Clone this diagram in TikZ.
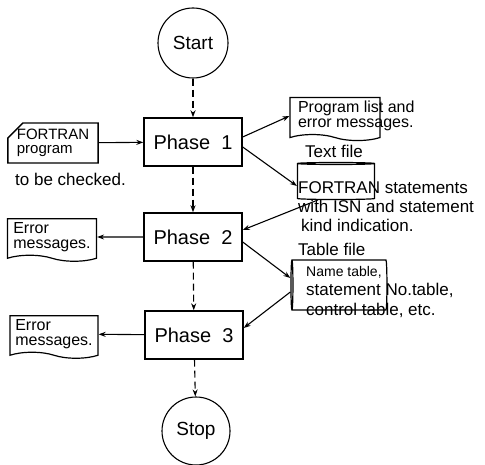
\documentclass[tikz,border=0pt]{standalone}
\usepackage{fontspec}
\setmainfont{Liberation Sans}
\usetikzlibrary{arrows.meta}
\usetikzlibrary{shapes.geometric}
\usetikzlibrary{shapes.misc}
\usetikzlibrary{shapes.symbols}

\tikzset{
  phase/.style={draw=black, line width=1.4pt, minimum width=98pt, minimum height=48pt,
    font=\fontsize{20}{22}\selectfont},
  term/.style={draw=black, circle, line width=1.1pt, minimum size=70pt, inner sep=0pt,
    font=\fontsize{19}{21}\selectfont},
  card/.style={draw=black, line width=1.4pt, chamfered rectangle,
    chamfered rectangle corners=north west, chamfered rectangle xsep=9pt,
    chamfered rectangle ysep=6pt, inner sep=0pt, align=left,
    font=\fontsize{15}{14}\selectfont},
  doc/.style={draw=black, line width=1.2pt, tape, tape bend top=none,
    tape bend bottom=out and in, tape bend height=6pt, align=left,
    font=\fontsize{16}{15.5}\selectfont},
  file/.style={draw=black, line width=1.2pt, cylinder, aspect=0.3},
  note/.style={align=left, inner sep=0pt, font=\fontsize{17}{19}\selectfont},
  flow/.style={line width=1.1pt, dash pattern=on 7pt off 4pt, -{Stealth[length=7pt,width=5pt]}},
  data/.style={line width=1.1pt, -{Stealth[length=7pt,width=5pt]}},
}

\begin{document}
\begin{tikzpicture}[x=1pt, y=-1pt]
  \useasboundingbox (0,0) rectangle (485,465);
  % main column
  \node[term] (start) at (193,43) {Start};
  \node[phase] (p1) at (193,142) {Phase\ \ 1};
  \node[phase] (p2) at (193,237) {Phase\ \ 2};
  \node[phase] (p3) at (194,335) {Phase\ \ 3};
  \node[term, minimum size=68pt] (stop) at (196,431) {Stop};
  \path [flow] (start) edge (p1);
  \path [flow] (p1) edge (p2);
  \path [flow] (p2) edge (p3);
  \path [flow] (p3) edge (stop);
  % left side
  \node[card, minimum width=89pt, minimum height=40pt] (src) at (53,143)
    {FORTRAN\\program};
  \node[note, anchor=north west] (chk) at (15,173) {to be checked.};
  \node[doc, minimum width=89pt, minimum height=38pt] (err1) at (52,237) {Error\\messages.};
  \node[doc, minimum width=88pt, minimum height=39pt] (err2) at (54,334) {Error\\messages.};
  \path [data] (src) edge (p1);
  \path [data] (p2) edge (err1);
  \path [data] (p3) edge (err2);
  % right side
  \node[doc, minimum width=90pt, minimum height=42pt, inner xsep=8pt] (plist) at (335,116)
    {\parbox{74pt}{\mbox{Program list and}\\\mbox{error messages.}}};
  \node[note, anchor=base west] (tflabel) at (305,158) {Text file};
  \node[file, shape border rotate=90, minimum width=77pt, minimum height=37pt] (tf) at (336,182) {};
  \node[note, anchor=north west] (tftext) at (298,181)
    {FORTRAN statements\\with ISN and statement\\\hspace{3pt}kind indication.};
  \node[note, anchor=base west] (tblabel) at (298,256) {Table file};
  \node[file, shape border rotate=180, minimum width=50pt, minimum height=96pt] (tb) at (340,285) {};
  \node[note, anchor=north west, font=\fontsize{17}{19.5}\selectfont] (tbtext) at (306,266)
    {{\fontsize{14}{14}\selectfont Name table,}\\statement No.table,\\control table, etc.};
  \path [data] ([yshift=5pt]p1.east) edge (plist.west);
  \path [data] ([yshift=-5pt]p1.east) edge ([yshift=-4pt]tf.west);
  \path [data] (tf.south west) edge ([yshift=7pt]p2.east);
  \path [data] ([yshift=-5pt]p2.east) edge ([yshift=7pt]tb.west);
  \path [data] ([yshift=-7pt]tb.west) edge ([yshift=7pt]p3.east);
\end{tikzpicture}
\end{document}
